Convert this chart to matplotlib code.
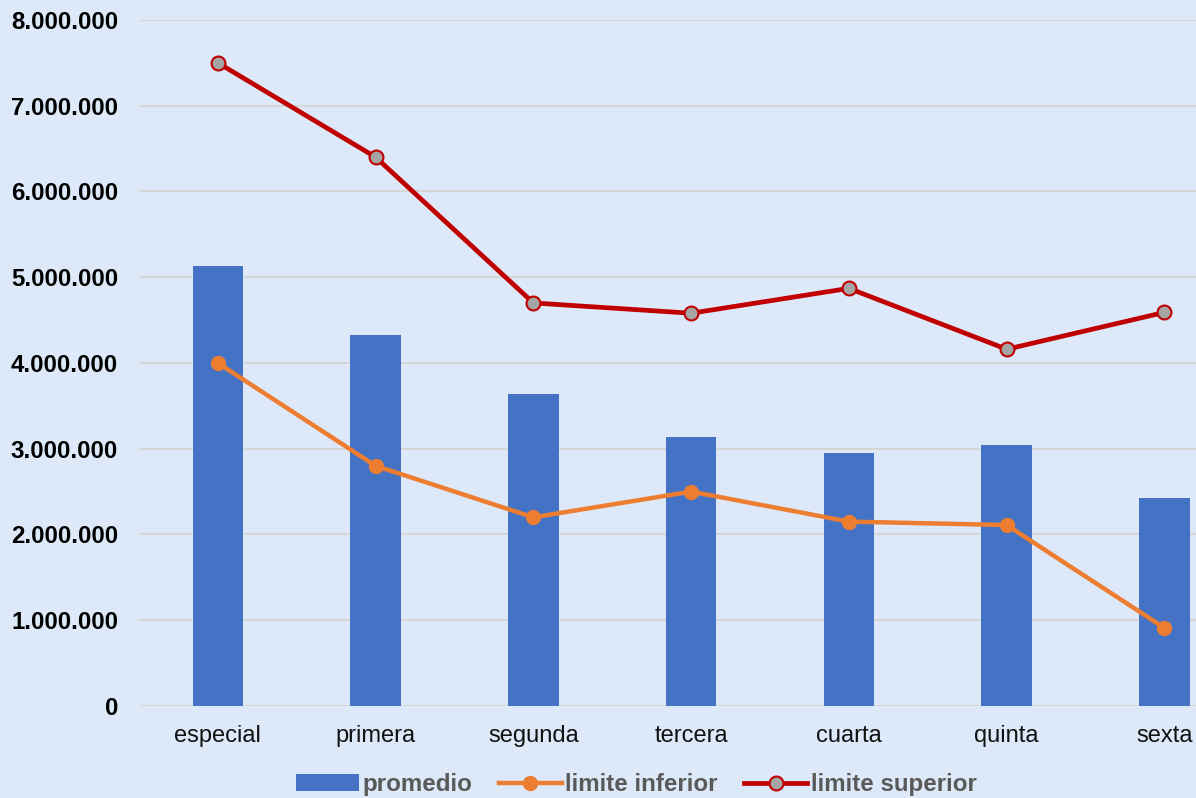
import matplotlib.pyplot as plt
from matplotlib.ticker import FuncFormatter

# categories and series
categorias = ['especial', 'primera', 'segunda', 'tercera', 'cuarta', 'quinta', 'sexta']
promedio = [5130000, 4330000, 3640000, 3140000, 2950000, 3040000, 2430000]
limite_inferior = [4000000, 2800000, 2200000, 2500000, 2150000, 2110000, 910000]
limite_superior = [7500000, 6400000, 4700000, 4580000, 4870000, 4160000, 4590000]

plt.rcParams['font.family'] = ['Liberation Sans', 'DejaVu Sans']

bg = '#DDE9F8'
fig = plt.figure(figsize=(11.96, 7.98), dpi=100, facecolor=bg)
ax = fig.add_axes([0.1162, 0.1153, 0.8838, 0.8597], facecolor=bg)

x = list(range(len(categorias)))
barras = ax.bar(x, promedio, width=0.32, color='#4472C4', label='promedio', zorder=2)
inf, = ax.plot(x, limite_inferior, color='#ED7D31', lw=3.2, marker='o', ms=10,
               mfc='#ED7D31', mec='#ED7D31', label='limite inferior', zorder=3)
sup, = ax.plot(x, limite_superior, color='#C00000', lw=3.4, marker='o', ms=10,
               mfc='#A5A5A5', mec='#C00000', mew=1.5, label='limite superior', zorder=3)

ax.set_xlim(-0.5, 6.2)
ax.set_ylim(0, 8000000)
ax.set_yticks(range(0, 8000001, 1000000))
ax.yaxis.set_major_formatter(FuncFormatter(lambda v, p: f'{int(v):,}'.replace(',', '.')))
ax.set_xticks(x)
ax.set_xticklabels(categorias, fontsize=17, color='#111111')
for t in ax.get_yticklabels():
    t.set_fontsize(17.3)
    t.set_fontweight('bold')
ax.tick_params(axis='y', length=0, pad=15)
ax.tick_params(axis='x', length=0, pad=14)
ax.grid(axis='y', color='#D6D6D6', lw=1.5, zorder=0)
for s in ax.spines.values():
    s.set_visible(False)

leg = fig.legend([barras, inf, sup], ['promedio', 'limite inferior', 'limite superior'],
                 loc='lower center', bbox_to_anchor=(0.532, -0.025), ncol=3,
                 frameon=False, handlelength=2.6, columnspacing=1.1,
                 handletextpad=0.15, prop={'size': 17.4, 'weight': 'bold'})
for t in leg.get_texts():
    t.set_color('#595959')

fig.savefig('out.png', dpi=100, facecolor=bg)
